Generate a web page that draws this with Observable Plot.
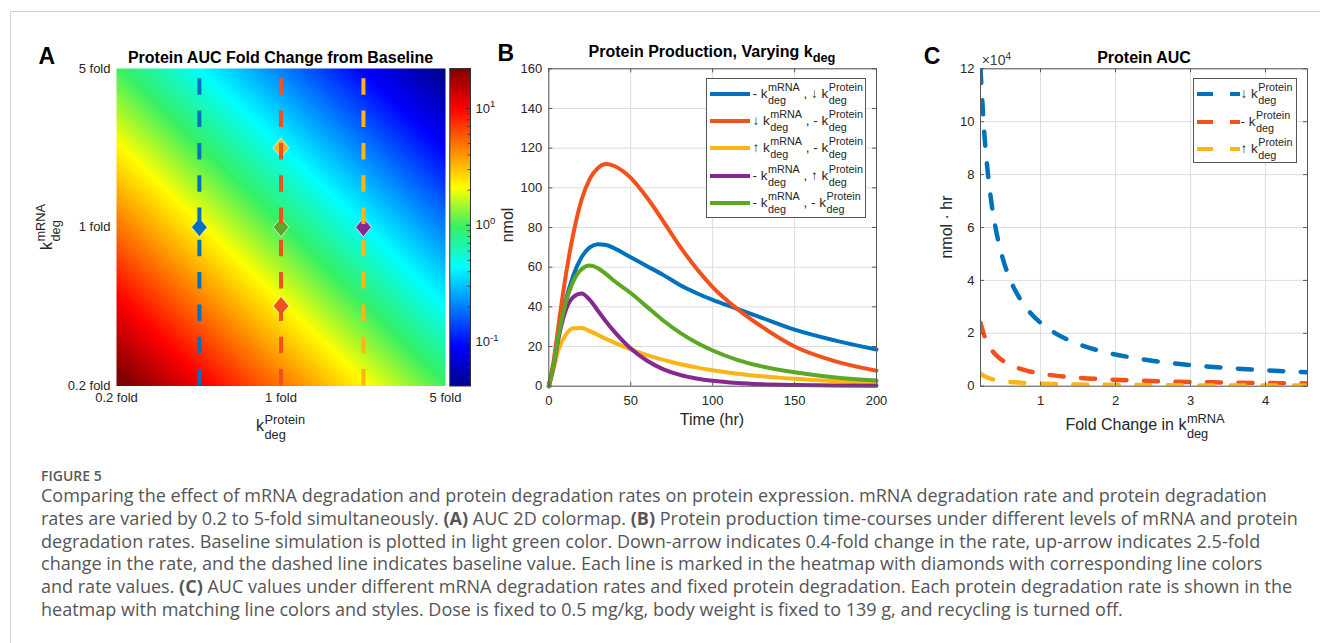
<!DOCTYPE html>
<html><head><meta charset="utf-8">
<script src="https://cdn.jsdelivr.net/npm/d3@7"></script>
<script src="https://cdn.jsdelivr.net/npm/@observablehq/plot@0.6"></script>
<style>
html,body{margin:0;padding:0;background:#fff;}
#fig{position:relative;width:1320px;height:643px;overflow:hidden;background:#fff;font-family:"Liberation Sans",Arial,Helvetica,sans-serif;color:#262626;}
#fig svg{position:absolute;left:0;top:0;}
.lab{position:absolute;white-space:nowrap;line-height:1.15;}
.st{display:inline-flex;flex-direction:column;vertical-align:middle;font-size:0.8em;line-height:1.2;margin-left:0.5px;text-align:left;}
.box{position:absolute;border:1px solid #555;background:#fff;box-sizing:border-box;}
.sw{position:absolute;height:4px;}
.cap{position:absolute;left:41px;font-family:"Open Sans","Noto Sans",sans-serif;color:#555;white-space:nowrap;}
.fl{position:absolute;background:#d2d2d2;}
</style></head>
<body><div id="fig"></div>
<script>
// ================= DATA =================
// Panel A: AUC fold change (rows: k_deg^mRNA fold, bottom→top; cols: k_deg^Protein fold)
const foldAxis = [0.2, 0.45, 1, 2.24, 5];
const aucFoldGrid = [
  [25, 11.1, 5, 2.23, 1],
  [11.1, 4.94, 2.22, 0.99, 0.44],
  [5, 2.22, 1, 0.45, 0.2],
  [2.23, 0.99, 0.45, 0.2, 0.089],
  [1, 0.44, 0.2, 0.089, 0.04]
];
const foldTicks = [0.2, 1, 5];
// dashed lines (fixed protein degradation rates shown in panel C)
const lineProtFold = [0.45, 1, 2.24];
// diamonds (simulations of panel B)
const markerProtFold = [0.45, 1, 2.24, 1, 1];
const markerMRNAFold = [1, 1, 1, 0.45, 2.24];
const markerSeries = ["blue", "green", "purple", "orange", "yellow"];
// colorbar
const cbarMin = 0.042, cbarMax = 22;
const cbarTicks = [-1, 0, 1];

// Panel B: protein amount (nmol) vs time (hr)
const timeHr = [0, 3, 6, 10, 15, 20, 25, 30, 35, 40, 50, 60, 70, 80, 90, 100, 115, 130, 150, 175, 200];
const nmolDownKProt = [0, 11, 26, 42, 56, 65, 70, 71.6, 71.2, 69.5, 65, 60.5, 56, 51, 47, 43.5, 39, 34.5, 28.5, 23, 18.5];
const nmolDownKmRNA = [0, 13, 31, 54, 77, 94, 104.5, 110, 112, 111, 105, 95, 83, 70.5, 59.5, 50, 39, 30, 20, 12.5, 7.8];
const nmolUpKmRNA = [0, 9, 18.5, 25.5, 29.2, 29.3, 27.8, 25.8, 23.8, 22, 18.6, 15.7, 13.3, 11.2, 9.5, 8, 6.3, 5, 3.7, 2.5, 1.6];
const nmolUpKProt = [0, 10.5, 24.5, 37.5, 45, 46.7, 43.5, 38, 32.5, 27.5, 19, 12.8, 8.5, 5.7, 3.9, 2.7, 1.6, 1.0, 0.6, 0.35, 0.2];
const nmolBaseline = [0, 11, 26, 41, 53, 59, 60.8, 59.5, 56.5, 53, 47, 40, 33, 27, 22, 18, 13.3, 10, 7, 4.4, 2.9];
const bXTicks = [0, 50, 100, 150, 200];
const bYTicks = [0, 20, 40, 60, 80, 100, 120, 140, 160];

// Panel C: protein AUC (×10^4 nmol·hr) vs fold change in k_deg^mRNA
const mrnaFold = [0.2, 0.25, 0.3, 0.35, 0.4, 0.5, 0.6, 0.7, 0.8, 1.0, 1.2, 1.5, 1.8, 2.2, 2.6, 3.0, 3.5, 4.0, 4.56];
const aucDownKProt = [12.0, 9.6, 8.0, 6.85, 6.0, 4.8, 4.0, 3.43, 3.0, 2.4, 2.0, 1.6, 1.33, 1.09, 0.92, 0.8, 0.69, 0.6, 0.53];
const aucBaseKProt = [2.4, 1.92, 1.6, 1.37, 1.2, 0.96, 0.8, 0.69, 0.6, 0.48, 0.4, 0.32, 0.27, 0.22, 0.185, 0.16, 0.137, 0.12, 0.105];
const aucUpKProt = [0.48, 0.38, 0.32, 0.27, 0.24, 0.19, 0.16, 0.14, 0.12, 0.096, 0.08, 0.064, 0.053, 0.044, 0.037, 0.032, 0.027, 0.024, 0.021];
const cXTicks = [1, 2, 3, 4];
const cYTicks = [0, 2, 4, 6, 8, 10, 12];

// ================= STYLE =================
const COL = {blue: "#0072BD", orange: "#F2511B", yellow: "#FDB515", purple: "#86298F", green: "#5CA825"};
const FONT = '"Liberation Sans", Arial, Helvetica, sans-serif';
const W = 1320, H = 450;
const AX = "#5a5a5a";
const cLo = Math.log10(cbarMin), cHi = Math.log10(cbarMax);
const jetT = [0, 0.125, 0.375, 0.5, 0.625, 0.875, 1];
const jetC = ["#00008F", "#0000FF", "#00FFFF", "#35F065", "#FFFF00", "#FF0000", "#800000"];
const colorScale = {type: "linear", domain: jetT.map(t => cLo + t * (cHi - cLo)), range: jetC, interpolate: "rgb", clamp: true};
const svgStyle = {background: "transparent", fontFamily: FONT, fontSize: "13px", color: "#262626", overflow: "visible"};
const fig = document.getElementById("fig");

function frameMargins(l, r, t, b) {
  return {width: W, height: H, marginLeft: l, marginRight: W - r, marginTop: t, marginBottom: H - b};
}
function inTicks(xt, yt, fw, fh, len) {
  const s = {stroke: AX, strokeWidth: 1};
  return [
    Plot.tickX(xt, {x: d => d, insetTop: fh - len, ...s}),
    Plot.tickX(xt, {x: d => d, insetBottom: fh - len, ...s}),
    Plot.tickY(yt, {y: d => d, insetRight: fw - len, ...s}),
    Plot.tickY(yt, {y: d => d, insetLeft: fw - len, ...s})
  ];
}
const tallDiamond = {
  draw(ctx, size) {
    const r = Math.sqrt(size / Math.PI), w = r * 0.95, h = r * 1.15;
    ctx.moveTo(0, -h); ctx.lineTo(w, 0); ctx.lineTo(0, h); ctx.lineTo(-w, 0); ctx.closePath();
  }
};

// ================= PANEL A =================
const heatCells = [];
aucFoldGrid.forEach((row, i) => row.forEach((v, j) => heatCells.push({kmRNA: foldAxis[i], kProt: foldAxis[j], fold: v})));
const diamonds = markerProtFold.map((p, i) => ({kProt: p, kmRNA: markerMRNAFold[i], c: COL[markerSeries[i]]}));
const lineCols = [COL.blue, COL.orange, COL.yellow];
const aLines = lineProtFold.map((p, i) => ({kProt: p, c: lineCols[i]}));

const A = {l: 116, r: 445, t: 68, b: 385.5};
const plotA = Plot.plot({
  ...frameMargins(A.l, A.r, A.t, A.b),
  style: svgStyle,
  x: {type: "log", domain: [0.2, 5], axis: null},
  y: {type: "log", domain: [0.2, 5], axis: null},
  color: colorScale,
  marks: [
    Plot.raster(heatCells, {x: "kProt", y: "kmRNA", fill: d => Math.log10(d.fold), interpolate: "barycentric"}),
    Plot.dot(diamonds, {x: "kProt", y: "kmRNA", fill: d => d.c, symbol: tallDiamond, r: 8.3, stroke: "#f4f4f4", strokeWidth: 0.8}),
    Plot.ruleX(aLines, {x: "kProt", y1: 0.2, y2: 5, stroke: d => d.c, strokeWidth: 4, strokeDasharray: "16.5,15.8"}),
    Plot.text(foldTicks, {x: d => d, frameAnchor: "bottom", dy: 16, text: d => `${d} fold`, fontSize: 13, fill: "#262626"}),
    Plot.text(foldTicks, {y: d => d, frameAnchor: "left", dx: -6, textAnchor: "end", text: d => `${d} fold`, fontSize: 13, fill: "#262626"})
  ]
});
fig.appendChild(plotA);

// colorbar
const CB = {l: 449.3, r: 470, t: 68, b: 385.5};
const minorExp = [];
[-2, -1, 0, 1].forEach(e => [2, 3, 4, 5, 6, 7, 8, 9].forEach(m => { const v = Math.log10(m * 10 ** e); if (v > cLo && v < cHi) minorExp.push(v); }));
const plotCB = Plot.plot({
  ...frameMargins(CB.l, CB.r, CB.t, CB.b),
  style: svgStyle,
  x: {domain: [0, 1], axis: null},
  y: {domain: [cLo, cHi], axis: null},
  color: colorScale,
  marks: [
    Plot.raster({x1: 0, x2: 1, y1: cLo, y2: cHi, fill: (x, y) => y}),
    Plot.tickY(minorExp, {y: d => d, insetLeft: 20.7 - 2.5, stroke: "#333", strokeWidth: 0.8}),
    Plot.tickY(cbarTicks, {y: d => d, insetLeft: 20.7 - 4, stroke: "#333"}),
    Plot.frame({stroke: "#333", strokeWidth: 1}),
    Plot.axisY(cbarTicks, {anchor: "right", tickSize: 0, tickPadding: 5, tickFormat: d => `10^${d}`, label: null, fontSize: 13})
  ]
});
fig.appendChild(plotCB);
d3.select(plotCB).selectAll('g[aria-label="y-axis tick label"] text').each(function() {
  const [b, e] = this.textContent.split("^");
  const t = d3.select(this); t.text(b);
  t.append("tspan").attr("dy", "-0.55em").attr("font-size", "9.5").text(e.replace("\u2212", "-"));
});

// ================= PANEL B =================
const B = {l: 548.3, r: 876, t: 68.3, b: 385.7};
const bSeries = [
  {vals: nmolDownKProt, c: COL.blue},
  {vals: nmolDownKmRNA, c: COL.orange},
  {vals: nmolUpKmRNA, c: COL.yellow},
  {vals: nmolUpKProt, c: COL.purple},
  {vals: nmolBaseline, c: COL.green}
];
const plotB = Plot.plot({
  ...frameMargins(B.l, B.r, B.t, B.b),
  style: svgStyle,
  x: {domain: [0, 200]},
  y: {domain: [0, 160]},
  marks: [
    Plot.gridX(bXTicks, {stroke: "#dedede", strokeOpacity: 1}),
    Plot.gridY(bYTicks, {stroke: "#dedede", strokeOpacity: 1}),
    ...bSeries.map(s => Plot.line(timeHr.map((t, i) => ({t, v: s.vals[i]})), {x: "t", y: "v", stroke: s.c, strokeWidth: 4, curve: "monotone-x"})),
    Plot.frame({stroke: AX}),
    ...inTicks(bXTicks, bYTicks, B.r - B.l, B.b - B.t, 4),
    Plot.axisX(bXTicks, {tickSize: 0, tickPadding: 9.5, label: null, fontSize: 13}),
    Plot.axisY(bYTicks, {tickSize: 0, tickPadding: 6.5, label: null, fontSize: 13})
  ]
});
fig.appendChild(plotB);

// ================= PANEL C =================
const C = {l: 980, r: 1307, t: 68.3, b: 385.7};
const cSeries = [
  {vals: aucDownKProt, c: COL.blue},
  {vals: aucBaseKProt, c: COL.orange},
  {vals: aucUpKProt, c: COL.yellow}
];
const plotC = Plot.plot({
  ...frameMargins(C.l, C.r, C.t, C.b),
  style: svgStyle,
  x: {domain: [0.2, 4.56]},
  y: {domain: [0, 12]},
  marks: [
    Plot.gridX(cXTicks, {stroke: "#dedede", strokeOpacity: 1}),
    Plot.gridY(cYTicks, {stroke: "#dedede", strokeOpacity: 1}),
    ...cSeries.map(s => Plot.line(mrnaFold.map((x, i) => ({x, v: s.vals[i]})), {x: "x", y: "v", stroke: s.c, strokeWidth: 4.5, strokeDasharray: "14,17.5", curve: "monotone-x", clip: true})),
    Plot.frame({stroke: AX}),
    ...inTicks(cXTicks, cYTicks, C.r - C.l, C.b - C.t, 4),
    Plot.axisX(cXTicks, {tickSize: 0, tickPadding: 9.5, label: null, fontSize: 13}),
    Plot.axisY(cYTicks, {tickSize: 0, tickPadding: 6, label: null, fontSize: 13})
  ]
});
fig.appendChild(plotC);

// ================= TEXT OVERLAYS =================
function label(html, x, y, o = {}) {
  const d = document.createElement("div");
  d.className = "lab";
  d.innerHTML = html;
  d.style.left = x + "px"; d.style.top = y + "px";
  d.style.fontSize = (o.size || 13) + "px";
  if (o.weight) d.style.fontWeight = o.weight;
  if (o.color) d.style.color = o.color;
  const tx = o.anchor === "start" ? "0" : o.anchor === "end" ? "-100%" : "-50%";
  d.style.transform = `translate(${tx},-50%)` + (o.rotate ? ` rotate(${o.rotate}deg)` : "");
  fig.appendChild(d);
  return d;
}
const kk = (sup, sub) => `k<span class="st"><span>${sup}</span><span>${sub}</span></span>`;
const subS = t => `<span style="font-size:0.8em;position:relative;top:0.45em">${t}</span>`;
const supS = t => `<span style="font-size:0.72em;position:relative;top:-0.5em">${t}</span>`;

// panel letters
label("A", 46.7, 56, {size: 23, weight: "bold", color: "#000"});
label("B", 505.8, 53.3, {size: 23, weight: "bold", color: "#000"});
label("C", 932, 55.7, {size: 23, weight: "bold", color: "#000"});
// titles
label("Protein AUC Fold Change from Baseline", 280.5, 58, {size: 16, weight: "bold", color: "#000"});
label(`Protein Production, Varying k${subS("deg")}`, 712, 51.5, {size: 16, weight: "bold", color: "#000"});
label("Protein AUC", 1144, 58.3, {size: 16, weight: "bold", color: "#000"});
// axis labels
label(kk("Protein", "deg"), 280.5, 427, {size: 16});
label(kk("mRNA", "deg"), 47.5, 227, {size: 16, rotate: -90});
label("nmol", 508, 225, {size: 16, rotate: -90});
label("Time (hr)", 712, 420, {size: 16});
label("nmol · hr", 946.7, 226.7, {size: 16, rotate: -90});
label(`Fold Change in ${kk("mRNA", "deg")}`, 1145, 426, {size: 16});
label(`×10${supS("4")}`, 981.7, 60, {size: 14, anchor: "start", color: "#404040"});

// legend B
const lb = document.createElement("div"); lb.className = "box";
Object.assign(lb.style, {left: "706px", top: "78px", width: "160px", height: "140px"});
fig.appendChild(lb);
const legB = [
  {c: COL.blue, html: `- ${kk("mRNA", "deg")} , ↓ ${kk("Protein", "deg")}`},
  {c: COL.orange, html: `↓ ${kk("mRNA", "deg")} , - ${kk("Protein", "deg")}`},
  {c: COL.yellow, html: `↑ ${kk("mRNA", "deg")} , - ${kk("Protein", "deg")}`},
  {c: COL.purple, html: `- ${kk("mRNA", "deg")} , ↑ ${kk("Protein", "deg")}`},
  {c: COL.green, html: `- ${kk("mRNA", "deg")} , - ${kk("Protein", "deg")}`}
];
const legBY = [94, 121.3, 148.3, 175.7, 202.7];
legB.forEach((e, i) => {
  const s = document.createElement("div"); s.className = "sw";
  Object.assign(s.style, {left: "710px", width: "40px", top: (legBY[i] - 2) + "px", background: e.c});
  fig.appendChild(s);
  label(e.html, 752.5, legBY[i], {size: 13.5, anchor: "start"});
});
// legend C
const lc = document.createElement("div"); lc.className = "box";
Object.assign(lc.style, {left: "1193px", top: "78.3px", width: "104px", height: "85px"});
fig.appendChild(lc);
const legC = [
  {c: COL.blue, html: `↓ ${kk("Protein", "deg")}`},
  {c: COL.orange, html: `- ${kk("Protein", "deg")}`},
  {c: COL.yellow, html: `↑ ${kk("Protein", "deg")}`}
];
const legCY = [94.3, 121.7, 148.7];
legC.forEach((e, i) => {
  [[1197, 16], [1230, 10]].forEach(([x, w]) => {
    const s = document.createElement("div"); s.className = "sw";
    Object.assign(s.style, {left: x + "px", width: w + "px", top: (legCY[i] - 2) + "px", background: e.c});
    fig.appendChild(s);
  });
  label(e.html, 1240.5, legCY[i], {size: 13.5, anchor: "start"});
});

// frame lines
const tl = document.createElement("div"); tl.className = "fl";
Object.assign(tl.style, {left: "10px", top: "11px", width: "1310px", height: "1px"}); fig.appendChild(tl);
const ll = document.createElement("div"); ll.className = "fl";
Object.assign(ll.style, {left: "10px", top: "11px", width: "1px", height: "632px"}); fig.appendChild(ll);

// caption
const capLines = [
  "Comparing the effect of mRNA degradation and protein degradation rates on protein expression. mRNA degradation rate and protein degradation",
  "rates are varied by 0.2 to 5-fold simultaneously. <b>(A)</b> AUC 2D colormap. <b>(B)</b> Protein production time-courses under different levels of mRNA and protein",
  "degradation rates. Baseline simulation is plotted in light green color. Down-arrow indicates 0.4-fold change in the rate, up-arrow indicates 2.5-fold",
  "change in the rate, and the dashed line indicates baseline value. Each line is marked in the heatmap with diamonds with corresponding line colors",
  "and rate values. <b>(C)</b> AUC values under different mRNA degradation rates and fixed protein degradation. Each protein degradation rate is shown in the",
  "heatmap with matching line colors and styles. Dose is fixed to 0.5 mg/kg, body weight is fixed to 139 g, and recycling is turned off."
];
const figLab = document.createElement("div"); figLab.className = "cap";
figLab.textContent = "FIGURE 5";
Object.assign(figLab.style, {top: "466px", fontSize: "14px", fontWeight: "600", color: "#5a5a5a", lineHeight: "20px"});
fig.appendChild(figLab);
const cap = document.createElement("div"); cap.className = "cap";
cap.innerHTML = capLines.map(l => `<span>${l}</span>`).join("<br>");
Object.assign(cap.style, {top: "484px", fontSize: "17px", lineHeight: "22.8px"});
fig.appendChild(cap);
const w1 = cap.querySelector("span").getBoundingClientRect().width;
cap.style.fontSize = (17 * 1226 / w1).toFixed(2) + "px";
</script></body></html>
